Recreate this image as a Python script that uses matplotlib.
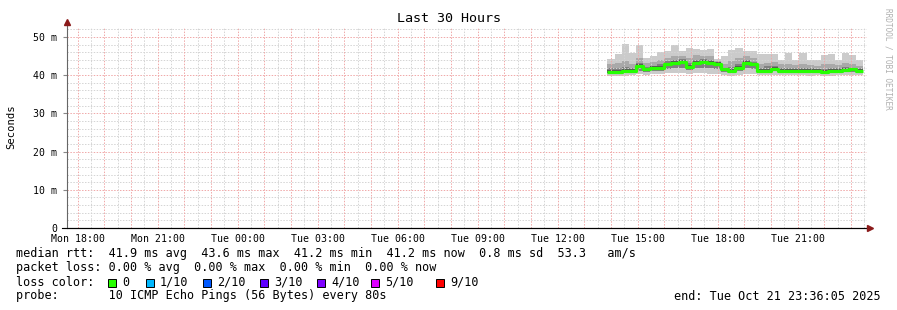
import numpy as np
import pandas as pd
import matplotlib
matplotlib.use('Agg')
import matplotlib.pyplot as plt
import matplotlib.dates as mdates
from matplotlib.patches import Rectangle

## graph window
t_start = pd.Timestamp('2025-10-20 17:36:05')
t_end = pd.Timestamp('2025-10-21 23:36:05')

## consolidated samples, 16 min each (values in ms)
times = pd.date_range('2025-10-21 13:52', periods=36, freq='16min')
median = [40.9, 40.9, 41.0, 41.2, 42.5, 41.5, 41.8, 42.0, 42.8, 43.1, 43.5, 42.1,
          43.1, 43.5, 43.1, 42.9, 41.5, 41.2, 42.0, 43.1, 42.8, 41.2, 41.2, 41.6,
          41.2, 41.2, 41.2, 41.2, 41.2, 41.1, 40.9, 41.1, 41.2, 41.4, 41.5, 41.2]
ping_max = [44.3, 45.6, 48.2, 45.8, 47.8, 44.4, 45.1, 46.0, 46.4, 47.9, 46.4, 47.0,
            46.8, 46.6, 46.8, 44.3, 45.1, 46.6, 47.0, 46.4, 46.4, 45.6, 45.6, 45.6,
            43.9, 45.9, 43.9, 45.9, 43.9, 43.9, 45.3, 45.6, 43.9, 45.9, 45.3, 43.9]
ping_p90 = [42.8, 43.2, 43.6, 43.0, 44.6, 43.2, 43.5, 44.0, 44.6, 45.0, 45.0, 44.5,
            45.2, 45.0, 45.0, 43.8, 43.0, 43.6, 44.6, 45.0, 44.5, 43.0, 43.3, 43.5,
            42.8, 43.0, 42.6, 43.0, 42.6, 42.5, 42.8, 43.0, 42.6, 43.2, 43.0, 42.5]
ping_p75 = [41.8, 41.9, 42.2, 42.0, 43.2, 42.2, 42.5, 42.8, 43.6, 44.0, 44.2, 43.3,
            44.0, 44.2, 44.0, 43.4, 42.0, 42.2, 43.0, 44.0, 43.5, 42.0, 42.3, 42.3,
            42.0, 41.9, 41.8, 41.9, 41.8, 41.7, 41.7, 42.0, 41.8, 42.1, 42.0, 41.8]
ping_p25 = [40.5, 40.5, 40.6, 40.7, 41.0, 40.9, 41.0, 41.2, 41.6, 41.8, 42.0, 41.3,
            41.8, 42.0, 41.8, 41.6, 40.9, 40.7, 41.0, 41.8, 41.6, 40.7, 40.7, 41.0,
            40.7, 40.8, 40.7, 40.7, 40.6, 40.6, 40.5, 40.6, 40.7, 40.8, 40.9, 40.7]
ping_min = [39.8, 39.9, 39.9, 40.0, 40.2, 40.1, 40.3, 40.4, 40.5, 40.5, 40.6, 40.3,
            40.5, 40.6, 40.4, 40.2, 40.0, 39.9, 40.1, 40.4, 40.3, 40.0, 40.0, 40.1,
            40.0, 40.1, 40.0, 40.0, 39.9, 40.0, 39.8, 39.9, 40.0, 40.0, 40.1, 40.0]

loss_labels = ['0', '1/10', '2/10', '3/10', '4/10', '5/10', '9/10']
loss_colors = ['#26ff00', '#00b8ff', '#0059ff', '#5e00ff', '#7e00ff', '#dd00ff', '#ff0000']

mono = 'DejaVu Sans Mono'
W, H = 897, 310

fig = plt.figure(figsize=(W/100, H/100), dpi=100)
ax = fig.add_axes([67/W, (H-228)/H, 800/W, 201/H])

xs = mdates.date2num(times.to_pydatetime())
step_w = 16/1440.0
med = np.array(median)
lo = np.array(ping_min); hi = np.array(ping_max)
q25 = np.array(ping_p25); q75 = np.array(ping_p75); q90 = np.array(ping_p90)

## smoke
ax.bar(xs, hi-lo, bottom=lo, width=step_w, align='edge', color='#cbcbcb', lw=0, zorder=1)
ax.bar(xs, q90-q25, bottom=q25, width=step_w, align='edge', color='#a9a9a9', lw=0, zorder=1)
ax.bar(xs, q75-q25, bottom=q25, width=step_w, align='edge', color='#808080', lw=0, zorder=1)
ax.bar(xs, np.minimum(q75, med+0.5)-np.maximum(q25, med-0.4), bottom=np.maximum(q25, med-0.4),
       width=step_w, align='edge', color='#555555', lw=0, zorder=1)

## grid (drawn over the smoke, like rrdtool)
for v in np.arange(2, 53, 2):
    if v % 10 == 0:
        ax.axhline(v, color='#f0a8a8', ls=(0, (1.5, 1.5)), lw=0.7, zorder=2)
    else:
        ax.axhline(v, color='#d4d4d4', ls=(0, (1.5, 1.5)), lw=0.7, zorder=2)
for t in pd.date_range(t_start.ceil('30min'), t_end, freq='30min'):
    c = '#f0a8a8' if t.minute == 0 else '#d4d4d4'
    ax.axvline(mdates.date2num(t.to_pydatetime()), color=c, ls=(0, (1.5, 1.5)), lw=0.7, zorder=2)

## median line
ax.step(np.append(xs, xs[-1]+step_w), np.append(med, med[-1]), where='post',
        color='#26ff00', lw=2.3, zorder=3, solid_capstyle='butt')

ax.set_xlim(mdates.date2num(t_start.to_pydatetime()), mdates.date2num(t_end.to_pydatetime()))
ax.set_ylim(0, 52.6)
ax.xaxis.set_major_locator(mdates.HourLocator(byhour=range(0, 24, 3)))
ax.xaxis.set_major_formatter(mdates.DateFormatter('%a %H:%M'))
ax.set_yticks([0, 10, 20, 30, 40, 50])
ax.set_yticklabels(['0', '10 m', '20 m', '30 m', '40 m', '50 m'])
for lab in ax.get_xticklabels() + ax.get_yticklabels():
    lab.set_fontfamily(mono)
    lab.set_fontsize(7.1)
ax.tick_params(axis='x', length=0, pad=4)
ax.tick_params(axis='y', length=3, color='#888888', pad=4)
for s in ['top', 'right']:
    ax.spines[s].set_visible(False)
ax.spines['left'].set_color('#666666')
ax.spines['left'].set_linewidth(0.8)
ax.spines['bottom'].set_color('black')
ax.spines['bottom'].set_linewidth(0.8)
ax.spines['left'].set_bounds(0, 54.0)
ax.plot([1.0035], [0], marker='>', color='#8b1a1a', ms=4, transform=ax.transAxes, clip_on=False, zorder=5)
ax.plot([0], [1.026], marker='^', color='#8b1a1a', ms=4, transform=ax.transAxes, clip_on=False, zorder=5)
ax.plot([-0.006, 1.0], [0, 0], color='black', lw=0.8, transform=ax.transAxes, clip_on=False)

## titles
fig.text(0.5, 1-19/H, 'Last 30 Hours', ha='center', va='center', fontfamily=mono, fontsize=9.6)
fig.text(11/W, 1-127/H, 'Seconds', rotation=90, ha='center', va='center', fontfamily=mono, fontsize=7.6)
fig.text(888/W, 1-59/H, 'RRDTOOL / TOBI OETIKER', rotation=270, ha='center', va='center',
         fontfamily=mono, fontsize=5.6, color='#b0b0b0')

## legend rows
fs = 8.5
fig.text(16/W, 1-254/H, 'median rtt:  41.9 ms avg  43.6 ms max  41.2 ms min  41.2 ms now  0.8 ms sd  53.3   am/s',
         va='center', fontfamily=mono, fontsize=fs)
fig.text(16/W, 1-268/H, 'packet loss: 0.00 % avg  0.00 % max  0.00 % min  0.00 % now',
         va='center', fontfamily=mono, fontsize=fs)
fig.text(16/W, 1-282/H, 'loss color:', va='center', fontfamily=mono, fontsize=fs)
sq_x = [108, 146, 203, 260, 317, 371, 436]
for x0, lab, col in zip(sq_x, loss_labels, loss_colors):
    fig.patches.append(Rectangle((x0/W, 1-286.5/H), 8/W, 8/H, transform=fig.transFigure,
                                 facecolor=col, edgecolor='black', lw=0.7))
    fig.text((x0+14)/W, 1-282/H, lab, va='center', fontfamily=mono, fontsize=fs)
fig.text(16/W, 1-296/H, 'probe:       10 ICMP Echo Pings (56 Bytes) every 80s',
         va='center', fontfamily=mono, fontsize=fs)
fig.text(881/W, 1-296/H, 'end: Tue Oct 21 23:36:05 2025', ha='right', va='center',
         fontfamily=mono, fontsize=fs)

fig.savefig('out.png', dpi=100)
